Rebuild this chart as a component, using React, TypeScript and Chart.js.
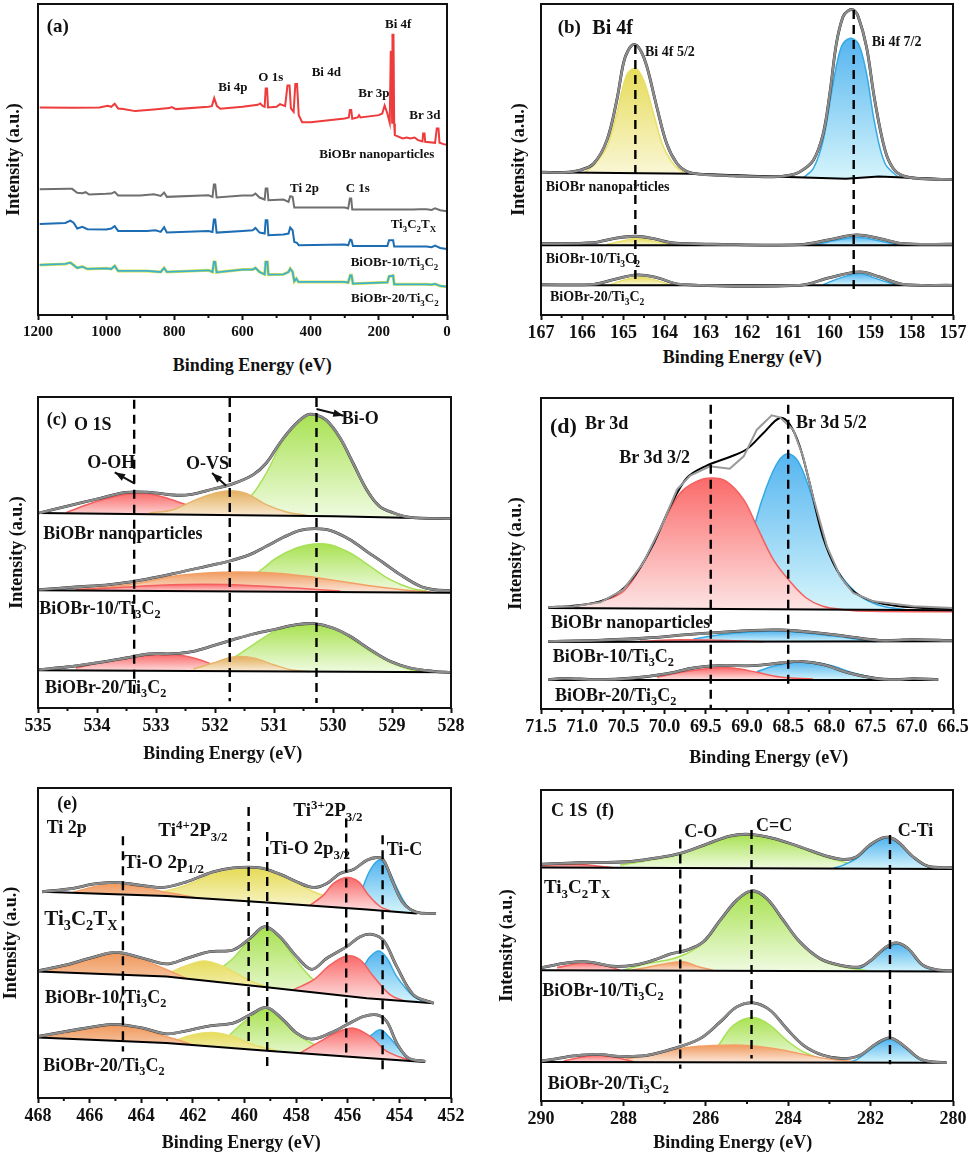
import React, { useEffect, useRef } from 'react';
import { Chart, registerables } from 'chart.js';

Chart.register(...registerables);

const FONT = '"Liberation Serif"';

// palette: line colour, top of the gradient, bottom of the gradient
const RED = ['#f4605e', '#fb6a6a', '#fde6e6'];
const ORANGE = ['#f2a066', '#f09a5e', '#fce9dc'];
const TAN = ['#e6b56c', '#e3b05e', '#fcf0e0'];
const YELLOW = ['#e8de6a', '#e6dc5a', '#fbf8dc'];
const GREEN = ['#a8e05a', '#a9e253', '#f0fbe2'];
const BLUE = ['#35a9e4', '#55b5f0', '#d6f5fb'];

// (a) survey spectra: energy (eV), intensity (a.u.)
const aRedE = [1195, 1100, 1020, 995, 985, 975, 965, 950, 915, 860, 815, 808, 795, 700, 690, 683, 675, 665, 600, 555, 548, 540, 535, 532, 528, 525, 500, 490, 475, 468, 462, 458, 450, 445, 440, 435, 425, 400, 300, 288, 285, 281, 278, 262, 258, 254, 200, 190, 183, 175, 168, 165, 163, 161, 160, 157, 155, 153, 130, 118, 108, 95, 85, 72, 70, 66, 64, 35, 30, 25, 22, 10, 0];
const aRedI = [622, 621, 622, 627, 624, 633, 619, 617, 611, 616, 620, 623, 617, 624, 626, 650, 626, 618, 624, 630, 634, 626, 624, 679, 679, 622, 624, 632, 626, 688, 688, 619, 609, 692, 692, 599, 578, 578, 589, 592, 614, 614, 588, 592, 599, 592, 599, 604, 628, 604, 576, 789, 789, 576, 840, 840, 574, 539, 529, 532, 529, 532, 524, 520, 544, 544, 519, 516, 559, 559, 516, 512, 510];
const aGrayE = [1195, 1110, 1100, 1085, 1070, 1060, 1050, 1000, 985, 975, 965, 900, 860, 840, 830, 822, 700, 688, 684, 680, 676, 600, 570, 562, 550, 535, 532, 527, 524, 480, 465, 460, 453, 448, 300, 290, 285, 281, 278, 100, 80, 60, 45, 35, 20, 0];
const aGrayI = [377, 378, 378, 366, 365, 368, 361, 363, 364, 369, 358, 358, 362, 357, 367, 354, 359, 354, 391, 391, 352, 358, 358, 364, 352, 346, 379, 379, 344, 346, 339, 356, 354, 322, 322, 319, 349, 349, 316, 316, 317, 317, 315, 320, 314, 311];
const aBlueE = [1195, 1120, 1105, 1095, 1085, 1070, 1055, 1000, 985, 975, 965, 880, 855, 840, 830, 822, 700, 688, 684, 680, 676, 600, 570, 562, 550, 535, 532, 527, 524, 480, 465, 460, 453, 448, 440, 435, 300, 290, 284, 280, 276, 175, 170, 158, 155, 60, 45, 35, 20, 0];
const aBlueI = [273, 276, 283, 276, 259, 264, 257, 256, 259, 266, 252, 252, 254, 249, 263, 247, 252, 249, 286, 286, 247, 252, 254, 261, 247, 244, 284, 284, 239, 241, 244, 262, 254, 219, 216, 209, 211, 209, 226, 224, 207, 207, 224, 224, 205, 205, 203, 208, 201, 198];
const aCyanE = [1195, 1120, 1105, 1095, 1085, 1070, 1055, 1000, 985, 975, 965, 880, 840, 830, 822, 700, 688, 684, 680, 676, 600, 570, 562, 550, 535, 532, 527, 524, 480, 465, 460, 453, 448, 442, 436, 300, 290, 284, 280, 276, 175, 170, 158, 155, 60, 45, 35, 20, 0];
const aCyanI = [150, 153, 157, 149, 141, 145, 138, 140, 138, 147, 132, 132, 129, 141, 129, 134, 129, 159, 159, 128, 136, 136, 141, 129, 122, 159, 159, 121, 122, 129, 139, 129, 101, 109, 99, 99, 97, 119, 119, 94, 98, 116, 118, 92, 92, 91, 93, 87, 85];

// (b) Bi 4f
const bEnv1E = [166.98, 166.45, 166.05, 165.72, 165.4, 165.16, 165.0, 164.88, 164.74, 164.59, 164.43, 164.19, 163.95, 163.7, 163.46, 163.14, 162.33, 161.36, 160.96, 160.72, 160.39, 160.15, 159.99, 159.83, 159.67, 159.54, 159.42, 159.3, 159.1, 158.9, 158.65, 158.45, 158.21, 157.81, 157.0];
const bEnv1I = [428, 427, 434, 454, 524, 644, 754, 794, 811, 794, 744, 624, 514, 454, 430, 422, 417, 414, 419, 429, 464, 544, 664, 814, 894, 912, 914, 894, 804, 644, 494, 439, 417, 409, 406];
const bBase1E = [166.98, 163.3, 161.2, 159.6, 158.8, 157];
const bBase1I = [428, 423, 414, 408, 415, 406];
const bY1E = [165.93, 165.68, 165.4, 165.16, 164.92, 164.71, 164.51, 164.27, 164.03, 163.75, 163.5];
const bY1I = [428, 454, 504, 604, 719, 739, 704, 604, 504, 447, 424];
const bB1E = [160.63, 160.39, 160.15, 159.91, 159.71, 159.51, 159.3, 159.1, 158.9, 158.65, 158.33];
const bB1I = [412, 439, 524, 694, 804, 829, 814, 724, 574, 454, 413];
const bEnv2E = [166.98, 165.72, 165.24, 164.71, 164.27, 163.79, 162.82, 160.72, 159.99, 159.34, 158.78, 158.21, 157];
const bEnv2I = [214, 217, 229, 236, 229, 216, 212, 211, 226, 240, 229, 214, 212];
const bBase2E = [167, 157];
const bBase2I = [209, 209];
const bY2E = [165.4, 165.08, 164.71, 164.31, 163.87];
const bY2I = [211, 220, 229, 222, 211];
const bB2E = [160.31, 159.83, 159.34, 158.86, 158.37];
const bB2I = [211, 224, 233, 224, 211];
const bEnv3E = [166.98, 165.72, 165.24, 164.67, 164.19, 163.62, 160.72, 159.99, 159.26, 158.78, 158.21, 157];
const bEnv3I = [91, 92, 106, 120, 112, 92, 89, 112, 129, 114, 92, 89];
const bBase3E = [167, 157];
const bBase3I = [89, 89];
const bY3E = [165.32, 165.0, 164.63, 164.27, 163.87];
const bY3I = [91, 104, 114, 106, 91];
const bB3E = [160.15, 159.71, 159.26, 158.86, 158.41];
const bB3I = [91, 112, 124, 109, 91];

// (c) O 1s
const cEnv1E = [534.98, 534.52, 534.0, 533.51, 533.11, 532.71, 532.43, 532.03, 531.69, 531.35, 531.13, 530.9, 530.67, 530.45, 530.31, 530.11, 529.88, 529.66, 529.43, 529.21, 528.97, 528.69, 528];
const cEnv1I = [585, 605, 627, 647, 647, 639, 640, 657, 673, 700, 735, 795, 845, 878, 880, 863, 810, 735, 655, 605, 585, 572, 568];
const cBase1E = [535, 529.99, 528];
const cBase1I = [585, 575, 568];
const cR1E = [534.52, 534.0, 533.56, 533.22, 532.88, 532.49, 532.15, 531.81];
const cR1I = [587, 620, 640, 645, 633, 610, 590, 580];
const cT1E = [533.11, 532.71, 532.32, 532.03, 531.75, 531.46, 531.13, 530.79, 530.45];
const cT1I = [585, 595, 625, 643, 652, 643, 610, 588, 578];
const cG1E = [531.69, 531.38, 531.13, 530.84, 530.62, 530.4, 530.14, 529.88, 529.66, 529.43, 529.21, 528.97, 528.69];
const cG1I = [590, 638, 705, 805, 855, 880, 860, 805, 735, 660, 605, 585, 572];
const cEnv2E = [534.98, 534.36, 533.79, 533.28, 532.71, 532.15, 531.75, 531.41, 531.13, 530.84, 530.56, 530.31, 530.05, 529.71, 529.43, 529.14, 528.86, 528.52, 528.29, 528];
const cEnv2I = [355, 363, 370, 383, 403, 425, 441, 460, 485, 512, 533, 538, 533, 505, 470, 435, 400, 365, 355, 352];
const cBase2E = [535, 528];
const cBase2I = [353, 346];
const cO2E = [534.36, 533.79, 533.28, 532.71, 532.15, 531.58, 531.01, 530.45, 529.88, 529.31, 528.75, 528.35];
const cO2I = [355, 363, 375, 395, 405, 408, 405, 395, 380, 365, 353, 348];
const cR2E = [534.36, 533.68, 532.94, 532.15, 531.35, 530.56, 529.88];
const cR2I = [355, 361, 368, 371, 367, 359, 351];
const cG2E = [531.69, 531.25, 530.96, 530.62, 530.33, 530.05, 529.71, 529.37, 529.03, 528.69, 528.41];
const cG2I = [365, 410, 450, 480, 492, 490, 465, 425, 385, 360, 350];
const cEnv3E = [534.98, 534.52, 533.96, 533.51, 533.11, 532.71, 532.37, 532.03, 531.69, 531.35, 530.96, 530.62, 530.31, 530.0, 529.71, 529.37, 529.03, 528.69, 528.29, 528];
const cEnv3I = [115, 123, 137, 150, 162, 163, 170, 187, 205, 222, 237, 250, 253, 240, 215, 175, 140, 120, 110, 107];
const cBase3E = [535, 528];
const cBase3I = [113, 107];
const cR3E = [534.36, 533.85, 533.39, 533.0, 532.6, 532.26, 532.03, 531.69];
const cR3I = [120, 140, 153, 160, 158, 145, 130, 117];
const cT3E = [532.37, 532.03, 531.69, 531.35, 531.01, 530.67, 530.39];
const cT3I = [117, 135, 153, 150, 130, 113, 109];
const cG3E = [532.03, 531.69, 531.35, 530.96, 530.62, 530.31, 530.0, 529.71, 529.37, 529.03, 528.69, 528.41];
const cG3I = [120, 150, 190, 233, 247, 250, 237, 210, 170, 137, 115, 110];

// (d) Br 3d
const dEnv1E = [71.41, 71.1, 70.78, 70.54, 70.34, 70.13, 69.93, 69.73, 69.49, 69.21, 69.0, 68.8, 68.6, 68.48, 68.36, 68.24, 68.08, 67.91, 67.71, 67.47, 67.15, 66.82, 66.5];
const dEnv1I = [305, 310, 323, 353, 408, 498, 608, 693, 730, 756, 780, 828, 873, 853, 788, 678, 518, 418, 353, 323, 308, 303, 300];
const dRawE = [71.41, 71.1, 70.78, 70.5, 70.26, 70.02, 69.85, 69.69, 69.45, 69.21, 69.04, 68.88, 68.7, 68.6, 68.44, 68.32, 68.2, 68.03, 67.87, 67.71, 67.47, 66.98, 66.5];
const dRawI = [305, 308, 320, 358, 438, 558, 658, 700, 728, 721, 758, 838, 881, 875, 838, 758, 638, 488, 398, 348, 323, 308, 303];
const dBase1E = [71.41, 66.5];
const dBase1I = [303, 296];
const dR1E = [71.1, 70.78, 70.5, 70.26, 70.02, 69.81, 69.61, 69.43, 69.25, 69.04, 68.88, 68.68, 68.48, 68.28, 68.08, 67.83, 67.51, 66.5];
const dR1I = [308, 323, 353, 438, 558, 648, 683, 693, 683, 628, 548, 448, 383, 333, 308, 298, 293, 292];
const dB1E = [69.0, 68.9, 68.76, 68.62, 68.5, 68.38, 68.24, 68.12, 67.95, 67.79, 67.59, 67.35, 67.07];
const dB1I = [438, 558, 668, 743, 766, 743, 658, 558, 438, 378, 333, 308, 298];
const dEnv2E = [71.41, 70.82, 70.22, 69.73, 69.33, 68.92, 68.6, 68.2, 67.79, 67.39, 66.98, 66.5];
const dEnv2I = [203, 206, 213, 223, 230, 236, 237, 230, 218, 206, 208, 205];
const dBase2E = [71.41, 66.5];
const dBase2I = [201, 203];
const dB2E = [69.65, 69.33, 68.92, 68.6, 68.2, 67.79, 67.43];
const dB2I = [210, 223, 232, 234, 226, 214, 202];
const dR2E = [70.3, 69.81, 69.33, 68.8];
const dR2I = [203, 208, 206, 202];
const dEnv3E = [71.41, 71.23, 70.82, 70.38, 69.97, 69.65, 69.33, 68.92, 68.6, 68.36, 68.07, 67.79, 67.47, 67.19, 66.98, 66.68];
const dEnv3I = [88, 92, 88, 93, 106, 123, 130, 130, 138, 143, 133, 110, 93, 88, 91, 88];
const dBase3E = [71.41, 66.68];
const dBase3I = [87, 87];
const dR3E = [70.09, 69.73, 69.41, 69.17, 68.88, 68.6, 68.2];
const dR3I = [96, 113, 123, 123, 110, 96, 90];
const dB3E = [68.88, 68.68, 68.4, 68.2, 67.95, 67.71, 67.39];
const dB3I = [112, 128, 141, 141, 128, 108, 90];

// (e) Ti 2p
const eEnv1E = [467.84, 466.65, 465.88, 464.97, 464.06, 463.16, 462.25, 461.22, 460.44, 459.4, 458.63, 457.98, 457.33, 456.81, 456.3, 455.78, 455.26, 454.87, 454.61, 454.23, 453.84, 453.32, 452.58];
const eEnv1I = [620, 630, 643, 648, 640, 633, 650, 680, 692, 692, 673, 650, 633, 645, 675, 687, 715, 723, 715, 645, 585, 558, 555];
const eBase1E = [467.84, 463.03, 459.14, 455.26, 453.32];
const eBase1I = [620, 607, 588, 567, 555];
const eO1E = [466.65, 465.75, 464.97, 464.06, 463.16, 462.51, 461.9];
const eO1I = [618, 637, 645, 637, 620, 612, 602];
const eY1E = [463.16, 462.25, 461.22, 460.31, 459.4, 458.63, 457.98, 457.33, 456.88, 456.56];
const eY1I = [620, 640, 673, 687, 687, 667, 647, 620, 607, 595];
const eR1E = [457.46, 456.94, 456.55, 456.04, 455.58, 455.2, 454.74, 454.36];
const eR1I = [579, 610, 645, 663, 650, 610, 575, 563];
const eB1E = [455.46, 455.13, 454.8, 454.48, 454.09, 453.7, 453.32];
const eB1I = [625, 685, 715, 695, 630, 577, 556];
const eEnv2E = [468, 466.91, 465.88, 464.97, 464.06, 463.03, 462.25, 461.34, 460.44, 459.79, 459.21, 458.63, 457.98, 457.4, 456.81, 456.04, 455.52, 455.07, 454.61, 454.1, 453.45, 452.67];
const eEnv2I = [382, 400, 423, 438, 423, 403, 420, 440, 445, 480, 515, 485, 425, 387, 420, 455, 485, 492, 473, 395, 310, 285];
const eBase2E = [468, 463.03, 459.14, 455.26, 452.67];
const eBase2I = [380, 365, 333, 300, 285];
const eO2E = [467.82, 466.91, 465.88, 464.97, 464.06, 463.29, 462.64, 462.25];
const eO2I = [380, 395, 420, 433, 417, 395, 373, 359];
const eY2E = [463.16, 462.51, 461.6, 460.96, 460.44, 459.66, 459.14];
const eY2I = [365, 390, 412, 400, 380, 348, 335];
const eG2E = [460.83, 460.44, 459.92, 459.21, 458.63, 458.11, 457.33, 456.55];
const eG2I = [395, 420, 465, 510, 480, 425, 355, 320];
const eR2E = [458.11, 457.33, 456.68, 456.04, 455.52, 455.0, 454.35, 453.84];
const eR2I = [325, 355, 400, 427, 415, 365, 310, 293];
const eB2E = [455.39, 455.13, 454.8, 454.48, 454.1, 453.45, 452.93];
const eB2I = [395, 425, 442, 420, 365, 305, 287];
const eEnv3E = [468, 466.91, 465.36, 464.71, 463.93, 463.03, 462.25, 461.34, 460.44, 459.79, 459.14, 458.5, 457.98, 457.4, 456.68, 456.04, 455.39, 454.87, 454.49, 454.1, 453.65, 453.0];
const eEnv3I = [185, 200, 220, 220, 210, 193, 202, 217, 225, 250, 272, 235, 195, 177, 195, 220, 245, 250, 230, 165, 120, 110];
const eBase3E = [468, 463.03, 459.14, 455.26, 453.0];
const eBase3I = [182, 165, 142, 120, 108];
const eO3E = [467.82, 466.91, 465.36, 464.71, 463.93, 463.16, 462.51, 462.0];
const eO3I = [182, 195, 218, 218, 205, 187, 173, 159];
const eY3E = [462.77, 461.99, 461.22, 460.44, 459.66, 458.76];
const eY3I = [170, 190, 197, 185, 160, 142];
const eG3E = [460.57, 459.92, 459.14, 458.5, 457.85, 457.2, 456.56];
const eG3I = [190, 235, 267, 230, 185, 157, 137];
const eR3E = [457.85, 457.07, 456.43, 455.78, 455.13, 454.48, 453.58];
const eR3I = [135, 170, 197, 210, 185, 140, 112];
const eB3E = [455.13, 454.74, 454.42, 454.03, 453.65];
const eB3I = [187, 205, 185, 150, 112];

// (f) C 1s
const fEnv1E = [289.98, 289.05, 287.92, 287.27, 286.62, 285.98, 285.42, 284.93, 284.36, 283.72, 283.07, 282.66, 282.34, 282.02, 281.66, 281.37, 280.97, 280.61, 280];
const fEnv1I = [710, 714, 717, 727, 742, 770, 794, 799, 787, 762, 734, 724, 732, 767, 790, 780, 732, 704, 699];
const fBase1E = [290, 280];
const fBase1I = [700, 695];
const fG1E = [288.08, 287.27, 286.62, 285.98, 285.42, 284.93, 284.36, 283.72, 283.07, 282.59, 282.18];
const fG1I = [707, 724, 740, 767, 790, 797, 784, 759, 730, 714, 700];
const fB1E = [282.9, 282.66, 282.34, 282.02, 281.66, 281.37, 280.97, 280.61, 280.2];
const fB1I = [698, 707, 727, 762, 787, 777, 730, 702, 696];
const fR1E = [289.98, 289.21, 288.24];
const fR1I = [707, 710, 699];
const fEnv2E = [289.98, 289.37, 288.88, 288.24, 287.75, 287.27, 286.87, 286.46, 286.06, 285.65, 285.25, 284.89, 284.52, 284.12, 283.72, 283.23, 282.75, 282.26, 281.94, 281.62, 281.37, 281.09, 280.73, 280.32, 280];
const fEnv2I = [400, 414, 417, 404, 407, 422, 440, 452, 477, 542, 602, 630, 607, 542, 477, 427, 407, 402, 427, 462, 474, 457, 407, 392, 391];
const fBase2E = [290, 280];
const fBase2I = [392, 388];
const fG2E = [288.0, 287.43, 286.87, 286.46, 286.06, 285.65, 285.25, 284.89, 284.52, 284.12, 283.72, 283.23, 282.75, 282.1];
const fG2I = [392, 412, 424, 442, 474, 540, 597, 627, 604, 540, 474, 424, 404, 391];
const fR2E = [289.61, 288.97, 288.48, 288.08];
const fR2I = [400, 414, 407, 392];
const fO2E = [287.8, 287.43, 286.95, 286.54, 286.22, 285.82];
const fO2I = [392, 400, 412, 417, 404, 391];
const fB2E = [282.45, 282.18, 281.86, 281.37, 281.09, 280.73, 280.4];
const fB2I = [391, 402, 437, 470, 454, 404, 390];
const fEnv3E = [289.98, 289.61, 289.21, 288.64, 288.08, 287.43, 286.79, 286.14, 285.65, 285.25, 284.85, 284.44, 284.04, 283.63, 283.15, 282.66, 282.26, 281.86, 281.53, 281.21, 280.81, 280.48, 280.16];
const fEnv3I = [120, 127, 135, 140, 134, 137, 157, 187, 237, 282, 294, 272, 217, 167, 137, 127, 137, 172, 189, 167, 127, 117, 115];
const fBase3E = [290, 280.16];
const fBase3I = [117, 115];
const fG3E = [285.69, 285.33, 284.85, 284.44, 284.04, 283.63, 283.23];
const fG3I = [167, 227, 250, 227, 182, 147, 127];
const fO3E = [288.08, 287.27, 286.46, 285.82, 285.09, 284.36, 283.72, 283.07, 282.26];
const fO3I = [122, 142, 160, 166, 167, 157, 142, 127, 116];
const fR3E = [289.45, 288.72, 288.24, 287.75];
const fR3I = [120, 137, 132, 118];
const fB3E = [282.55, 282.34, 281.86, 281.53, 281.21, 280.81, 280.5];
const fB3I = [116, 124, 167, 185, 164, 124, 116];

// vertical guide lines: [energy, top, bottom]
const bGuides = [[164.71, 809, 99], [159.41, 914, 74]];
const cGuides = [[533.37, 925, 30], [531.75, 930, 20], [530.28, 930, 15]];
const dGuides = [[69.44, 913, 3], [68.5, 913, 75]];
const eGuides = [[464.71, 787, 140], [459.84, 875, 160], [459.12, 800, 90], [456.06, 840, 130], [454.65, 790, 80]];
const fGuides = [[286.62, 784, 97], [284.89, 812, 127], [281.53, 797, 110]];

// annotation arrows in (c): [fromE, fromI, toE, toI]
const cArrows = [[530.28, 897, 529.82, 877], [533.36, 673, 533.7, 707], [531.81, 667, 532.05, 705]];

const pts = (xs: number[], ys: number[]) => xs.map((x, i) => ({ x, y: ys[i] }));

type Peak = [number[], number[], string[]];
type Sample = { env: [number[], number[]]; raw?: [number[], number[]]; base: [number[], number[]]; peaks: Peak[] };

const sampleSets = (guides: number[][], samples: Sample[]) => {
  const ds: any[] = [];
  guides.forEach(([e, top, bottom]) => {
    ds.push({ data: pts([e, e], [top, bottom]), borderColor: '#000', borderWidth: 2.4, borderDash: [9, 6], pointRadius: 0 });
  });
  samples.forEach((s) => {
    if (s.raw) {
      ds.push({ data: pts(s.raw[0], s.raw[1]), borderColor: '#999', borderWidth: 2, pointRadius: 0, tension: 0 });
      ds.push({ data: pts(s.env[0], s.env[1]), borderColor: '#000', borderWidth: 2, pointRadius: 0, tension: 0.35 });
    } else {
      ds.push({ data: pts(s.env[0], s.env[1]), borderColor: '#8c8c8c', borderWidth: 2.4, pointRadius: 0, tension: 0.35 });
      ds.push({ data: pts(s.env[0], s.env[1]), borderColor: '#222', borderWidth: 2.8, pointRadius: 0, tension: 0.35 });
    }
    const baseIndex = ds.length;
    ds.push({ data: pts(s.base[0], s.base[1]), borderColor: '#000', borderWidth: 2, pointRadius: 0 });
    s.peaks.forEach(([e, v, colour]) => {
      const hi = Math.max(...v);
      const lo = Math.min(...s.base[1]);
      ds.push({
        data: pts(e, v),
        borderColor: colour[0],
        borderWidth: 1.5,
        pointRadius: 0,
        tension: 0.35,
        fill: baseIndex,
        backgroundColor: (ctx: any) => {
          const { chart } = ctx;
          if (!chart.chartArea) return colour[1];
          const g = chart.ctx.createLinearGradient(0, chart.scales.y.getPixelForValue(hi), 0, chart.scales.y.getPixelForValue(Math.min(lo, Math.min(...v))));
          g.addColorStop(0, colour[1]);
          g.addColorStop(1, colour[2]);
          return g;
        },
      });
    });
  });
  return ds;
};

const surveySets = [
  { data: pts(aRedE, aRedI), borderColor: '#ee3b3b', borderWidth: 2, pointRadius: 0 },
  { data: pts(aGrayE, aGrayI), borderColor: '#6f6f6f', borderWidth: 2, pointRadius: 0 },
  { data: pts(aBlueE, aBlueI), borderColor: '#1c6db3', borderWidth: 2, pointRadius: 0 },
  { data: pts(aCyanE, aCyanI), borderColor: '#3db1cf', borderWidth: 1.8, pointRadius: 0 },
  { data: pts(aCyanE, aCyanI), borderColor: '#d9e24a', borderWidth: 3, pointRadius: 0 },
];

const S10 = <>BiOBr-10/Ti<sub>3</sub>C<sub>2</sub></>;
const S20 = <>BiOBr-20/Ti<sub>3</sub>C<sub>2</sub></>;
const TX = <>Ti<sub>3</sub>C<sub>2</sub>T<sub>X</sub></>;
const NANO = 'BiOBr nanoparticles';
const XTITLE = 'Binding Energy (eV)';

// x, y of the labels are on a 3x measuring grid relative to cropX, cropY of the panel
const panels: any[] = [
  {
    id: 'a', canvas: [0, 0, 480, 345], plot: [38, 4, 447, 315], xr: [1200, 0], step: 200, minor: 100, digits: 0, tickSize: 15, yMax: 932, titleX: 4, crop: [0, 0],
    sets: surveySets, arrows: [],
    labels: [
      ['(a)', 140, 77, 19], ['Bi 4f', 1155, 72, 13], ['Bi 4p', 655, 262, 13], ['O 1s', 775, 230, 13], ['Bi 4d', 935, 215, 13], ['Br 3p', 1075, 280, 13], ['Br 3d', 1228, 345, 13],
      [NANO, 958, 462, 13], ['Ti 2p', 870, 565, 13], ['C 1s', 1037, 563, 13], [TX, 1172, 672, 13], [S10, 1052, 785, 13], [S20, 1053, 893, 13], [XTITLE, 518, 1095, 18],
    ],
  },
  {
    id: 'b', canvas: [480, 0, 500, 345], plot: [541, 4, 953, 315], xr: [167, 157], step: 1, minor: 0.5, digits: 0, tickSize: 18, yMax: 932, titleX: 29, crop: [480, 0],
    sets: sampleSets(bGuides, [
      { env: [bEnv1E, bEnv1I], base: [bBase1E, bBase1I], peaks: [[bY1E, bY1I, YELLOW], [bB1E, bB1I, BLUE]] },
      { env: [bEnv2E, bEnv2I], base: [bBase2E, bBase2I], peaks: [[bY2E, bY2I, YELLOW], [bB2E, bB2I, BLUE]] },
      { env: [bEnv3E, bEnv3I], base: [bBase3E, bBase3I], peaks: [[bY3E, bY3I, YELLOW], [bB3E, bB3I, BLUE]] },
    ]),
    arrows: [],
    labels: [
      ['(b)', 233, 82, 19], ['Bi 4f', 337, 80, 20], ['Bi 4f 5/2', 495, 157, 14], ['Bi 4f 7/2', 1175, 125, 14],
      [NANO, 197, 562, 14], [S10, 197, 778, 14], [S20, 210, 892, 14], [XTITLE, 548, 1070, 18],
    ],
  },
  {
    id: 'c', canvas: [0, 385, 480, 365], plot: [38, 397, 451, 708], xr: [535, 528], step: 1, minor: 0.5, digits: 0, tickSize: 18, yMax: 933, titleX: 7, crop: [0, 350],
    sets: sampleSets(cGuides, [
      { env: [cEnv1E, cEnv1I], base: [cBase1E, cBase1I], peaks: [[cT1E, cT1I, TAN], [cR1E, cR1I, RED], [cG1E, cG1I, GREEN]] },
      { env: [cEnv2E, cEnv2I], base: [cBase2E, cBase2I], peaks: [[cR2E, cR2I, RED], [cO2E, cO2I, ORANGE], [cG2E, cG2I, GREEN]] },
      { env: [cEnv3E, cEnv3I], base: [cBase3E, cBase3I], peaks: [[cT3E, cT3I, TAN], [cR3E, cR3I, RED], [cG3E, cG3I, GREEN]] },
    ]),
    arrows: cArrows,
    labels: [
      ['(c)', 140, 208, 18], ['O 1S', 222, 222, 18], ['Bi-O', 1025, 203, 18], ['O-OH', 262, 335, 18], ['O-VS', 558, 340, 18],
      [NANO, 130, 548, 18], [S10, 118, 775, 18], [S20, 135, 1010, 18], [XTITLE, 430, 1210, 18],
    ],
  },
  {
    id: 'd', canvas: [480, 385, 500, 365], plot: [541, 398, 953, 709], xr: [71.5, 66.5], step: 0.5, minor: 0.25, digits: 1, tickSize: 18, yMax: 933, titleX: 26, crop: [480, 350],
    sets: sampleSets(dGuides, [
      { env: [dEnv1E, dEnv1I], raw: [dRawE, dRawI], base: [dBase1E, dBase1I], peaks: [[dR1E, dR1I, RED], [dB1E, dB1I, BLUE]] },
      { env: [dEnv2E, dEnv2I], base: [dBase2E, dBase2I], peaks: [[dR2E, dR2I, RED], [dB2E, dB2I, BLUE]] },
      { env: [dEnv3E, dEnv3I], base: [dBase3E, dBase3I], peaks: [[dR3E, dR3I, RED], [dB3E, dB3I, BLUE]] },
    ]),
    arrows: [],
    labels: [
      ['(d)', 210, 228, 22], ['Br 3d', 315, 220, 18], ['Br 3d 3/2', 418, 320, 18], ['Br 3d 5/2', 948, 215, 18],
      [NANO, 213, 817, 18], [S10, 218, 918, 18], [S20, 225, 1035, 18], [XTITLE, 628, 1220, 18],
    ],
  },
  {
    id: 'e', canvas: [0, 775, 480, 365], plot: [38, 788, 451, 1098], xr: [468, 452], step: 2, minor: 1, digits: 0, tickSize: 18, yMax: 932, titleX: 1, crop: [0, 750],
    sets: sampleSets(eGuides, [
      { env: [eEnv1E, eEnv1I], base: [eBase1E, eBase1I], peaks: [[eR1E, eR1I, RED], [eO1E, eO1I, ORANGE], [eY1E, eY1I, YELLOW], [eB1E, eB1I, BLUE]] },
      { env: [eEnv2E, eEnv2I], base: [eBase2E, eBase2I], peaks: [[eR2E, eR2I, RED], [eO2E, eO2I, ORANGE], [eY2E, eY2I, YELLOW], [eG2E, eG2I, GREEN], [eB2E, eB2I, BLUE]] },
      { env: [eEnv3E, eEnv3I], base: [eBase3E, eBase3I], peaks: [[eR3E, eR3I, RED], [eO3E, eO3I, ORANGE], [eY3E, eY3I, YELLOW], [eG3E, eG3I, GREEN], [eB3E, eB3I, BLUE]] },
    ]),
    arrows: [],
    labels: [
      ['(e)', 172, 160, 18], ['Ti 2p', 140, 230, 18],
      [<>Ti<sup>4+</sup>2P<sub>3/2</sub></>, 475, 240, 19], [<>Ti<sup>3+</sup>2P<sub>3/2</sub></>, 880, 180, 19],
      [<>Ti-O 2p<sub>3/2</sub></>, 810, 295, 19], [<>Ti-O 2p<sub>1/2</sub></>, 372, 335, 19], ['Ti-C', 1160, 298, 18],
      [TX, 133, 505, 21], [S10, 135, 740, 18], [S20, 130, 945, 18], [XTITLE, 485, 1175, 18],
    ],
  },
  {
    id: 'f', canvas: [480, 775, 500, 365], plot: [541, 790, 953, 1101], xr: [290, 280], step: 2, minor: 1, digits: 0, tickSize: 18, yMax: 932, titleX: 17, crop: [480, 750],
    sets: sampleSets(fGuides, [
      { env: [fEnv1E, fEnv1I], base: [fBase1E, fBase1I], peaks: [[fR1E, fR1I, RED], [fB1E, fB1I, BLUE], [fG1E, fG1I, GREEN]] },
      { env: [fEnv2E, fEnv2I], base: [fBase2E, fBase2I], peaks: [[fR2E, fR2I, RED], [fO2E, fO2I, ORANGE], [fG2E, fG2I, GREEN], [fB2E, fB2I, BLUE]] },
      { env: [fEnv3E, fEnv3I], base: [fBase3E, fBase3I], peaks: [[fR3E, fR3I, RED], [fO3E, fO3I, ORANGE], [fG3E, fG3I, GREEN], [fB3E, fB3I, BLUE]] },
    ]),
    arrows: [],
    labels: [
      ['C 1S', 213, 180, 18], ['(f)', 348, 180, 18], ['C-O', 613, 243, 18], ['C=C', 828, 225, 18], ['C-Ti', 1253, 240, 18],
      [TX, 192, 412, 19], [S10, 187, 720, 18], [S20, 203, 998, 18], [XTITLE, 520, 1175, 18],
    ],
  },
];

// frame round the plot, half-way ticks and the arrows of panel (c)
const framePlugin = {
  id: 'frame',
  afterDatasetsDraw(chart: any, _args: any, opts: any) {
    const { ctx, chartArea: a, scales } = chart;
    ctx.save();
    ctx.strokeStyle = '#111';
    ctx.fillStyle = '#111';
    ctx.lineWidth = 2;
    ctx.strokeRect(a.left, a.top, a.right - a.left, a.bottom - a.top);
    const lo = Math.min(scales.x.min, scales.x.max);
    const hi = Math.max(scales.x.min, scales.x.max);
    for (let v = lo + opts.minor; v < hi; v += opts.minor * 2) {
      const px = scales.x.getPixelForValue(v);
      ctx.beginPath();
      ctx.moveTo(px, a.bottom);
      ctx.lineTo(px, a.bottom + 3);
      ctx.stroke();
    }
    (opts.arrows || []).forEach(([e0, i0, e1, i1]: number[]) => {
      const x0 = scales.x.getPixelForValue(e0);
      const y0 = scales.y.getPixelForValue(i0);
      const x1 = scales.x.getPixelForValue(e1);
      const y1 = scales.y.getPixelForValue(i1);
      const t = Math.atan2(y1 - y0, x1 - x0);
      ctx.beginPath();
      ctx.moveTo(x0, y0);
      ctx.lineTo(x1, y1);
      ctx.stroke();
      ctx.beginPath();
      ctx.moveTo(x1, y1);
      ctx.lineTo(x1 - 11 * Math.cos(t - 0.35), y1 - 11 * Math.sin(t - 0.35));
      ctx.lineTo(x1 - 11 * Math.cos(t + 0.35), y1 - 11 * Math.sin(t + 0.35));
      ctx.closePath();
      ctx.fill();
    });
    ctx.restore();
  },
};

const Panel = ({ p }: { p: any }) => {
  const ref = useRef<HTMLCanvasElement>(null);
  const [cl, ct, cw, ch] = p.canvas;
  const [pl, pt, pr, pb] = p.plot;

  useEffect(() => {
    if (!ref.current) return;
    const chart = new Chart(ref.current, {
      type: 'line',
      data: { datasets: p.sets },
      plugins: [framePlugin],
      options: {
        animation: false,
        responsive: false,
        devicePixelRatio: 1,
        layout: { padding: { top: pt - ct, right: cl + cw - pr, left: 0, bottom: 0 } },
        plugins: { legend: { display: false }, tooltip: { enabled: false }, frame: { minor: p.minor, arrows: p.arrows } },
        scales: {
          x: {
            type: 'linear',
            reverse: true,
            min: p.xr[1],
            max: p.xr[0],
            afterFit: (s: any) => { s.height = ct + ch - pb; },
            border: { display: false },
            grid: { drawOnChartArea: false, drawTicks: true, tickLength: 5, tickWidth: 2, tickColor: '#111' },
            ticks: {
              stepSize: p.step,
              autoSkip: false,
              maxRotation: 0,
              color: '#111',
              font: { family: FONT, size: p.tickSize, weight: 'bold' },
              callback: (v: any) => Number(v).toFixed(p.digits),
            },
          },
          y: {
            min: 0,
            max: p.yMax,
            afterFit: (s: any) => { s.width = pl - cl; },
            border: { display: false },
            grid: { display: false },
            ticks: { display: false },
            title: {
              display: true,
              text: 'Intensity (a.u.)',
              color: '#111',
              padding: { top: p.titleX, bottom: 0 },
              font: { family: FONT, size: 18, weight: 'bold' },
            },
          },
        },
      } as any,
    });
    return () => chart.destroy();
  }, []);

  return (
    <canvas
      ref={ref}
      width={cw}
      height={ch}
      style={{ position: 'absolute', left: cl, top: ct, width: cw, height: ch }}
    />
  );
};

export default function App() {
  return (
    <div style={{ position: 'absolute', left: 0, top: 0, width: 969, height: 1155, overflow: 'hidden', background: '#fff' }}>
      <style>{'.lb sub,.lb sup{font-size:68%;line-height:0}'}</style>
      {panels.map((p) => <Panel key={p.id} p={p} />)}
      {panels.map((p) => p.labels.map((l: any, i: number) => (
        <div
          key={p.id + i}
          className="lb"
          style={{
            position: 'absolute',
            left: p.crop[0] + l[1] / 3,
            top: p.crop[1] + l[2] / 3,
            transform: 'translateY(-50%)',
            whiteSpace: 'nowrap',
            color: '#111',
            fontFamily: FONT,
            fontWeight: 'bold',
            fontSize: l[3],
          }}
        >
          {l[0]}
        </div>
      )))}
    </div>
  );
}
